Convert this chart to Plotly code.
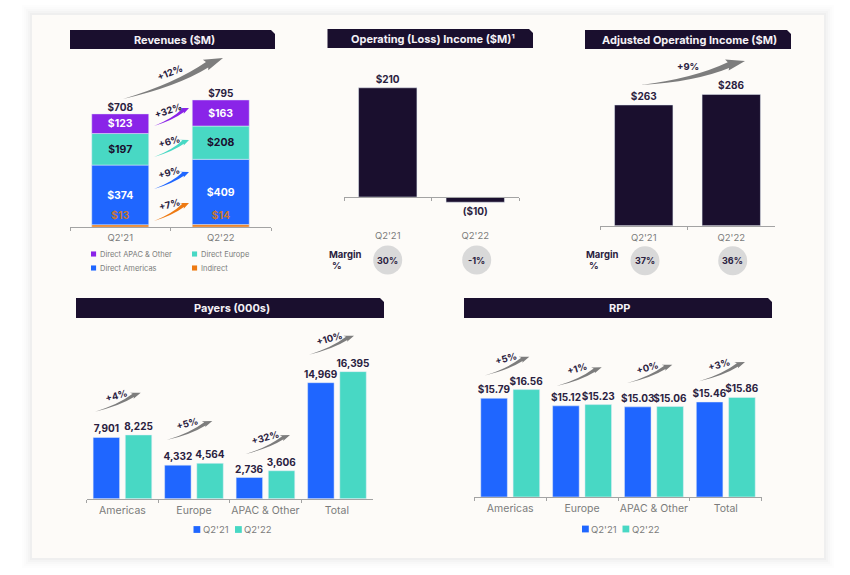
import plotly.graph_objects as go

W, H = 850, 575
FONT = "Inter"
DARK = "#1a0f2e"
INK = "#2a2140"
GREY = "#7b7b7b"
BLUE = "#1f66ff"
TEAL = "#48d8c4"
PURPLE = "#8a24e8"
ORANGE = "#ee7a12"
ARROW = "#7d7d7d"

# ---------- data ----------
quarters = ["Q2'21", "Q2'22"]
rev_indirect = [13, 14]
rev_americas = [374, 409]
rev_europe = [197, 208]
rev_apac = [123, 163]
rev_totals = [708, 795]

op_income = [210, -10]
op_margin = ["30%", "-1%"]
adj_income = [263, 286]
adj_margin = ["37%", "36%"]

regions = ["Americas", "Europe", "APAC & Other", "Total"]
payers_q221 = [7901, 4332, 2736, 14969]
payers_q222 = [8225, 4564, 3606, 16395]
rpp_q221 = [15.79, 15.12, 15.03, 15.46]
rpp_q222 = [16.56, 15.23, 15.06, 15.86]


def fx(px):
    return px / W


def fy(py):
    return 1 - py / H


fig = go.Figure()
shapes = []
annots = []


def text(px, py, s, size=10, color=INK, bold=True, angle=0, xanchor="center"):
    annots.append(dict(
        x=fx(px), y=fy(py), xref="paper", yref="paper", text=s, showarrow=False,
        xanchor=xanchor, yanchor="middle", textangle=angle, borderpad=0,
        font=dict(family=FONT, size=size, color=color, weight=700 if bold else 400),
    ))


def title_bar(x0, y0, x1, y1, s, cx):
    shapes.append(dict(
        type="path", xref="paper", yref="paper", fillcolor=DARK, line_width=0,
        path=f"M{fx(x0)},{fy(y0)} L{fx(x1-4)},{fy(y0)} L{fx(x1)},{fy(y0+4)} "
             f"L{fx(x1)},{fy(y1)} L{fx(x0)},{fy(y1)} Z"))
    text(cx, (y0 + y1) / 2, s, size=11, color="#f4f1f6")


def swoosh(x0, y0, x1, y1, color, label, lx, ly, angle, size=9.5):
    dx, dy = x1 - x0, y1 - y0
    L = (dx * dx + dy * dy) ** 0.5
    ux, uy = dx / L, dy / L
    nx, ny = uy, -ux  # points to the upper side

    def p(a, b):
        return f"{fx(x0 + ux * a + nx * b)},{fy(y0 + uy * a + ny * b)}"

    t = max(3.2, L * 0.05)
    neck = L * 0.84
    low = -.03 * L
    path = (f"M{p(0, 0)} Q{p(L * .5, -L * .085)} {p(neck, low)} "
            f"L{p(neck - 1, low - t * .45)} L{p(L, 0)} L{p(neck - 2, low + t * 1.7)} "
            f"L{p(neck, low + t * 1.1)} Q{p(L * .5, -L * .05)} {p(0, 0)} Z")
    shapes.append(dict(type="path", xref="paper", yref="paper", path=path,
                       fillcolor=color, line_width=0))
    text(lx, ly, label, size=size, angle=angle)


def circle(cx, cy, s):
    shapes.append(dict(type="circle", xref="paper", yref="paper", fillcolor="#d9d9d9", line_width=0,
                       x0=fx(cx - 14.5), x1=fx(cx + 14.5), y0=fy(cy + 14.5), y1=fy(cy - 14.5)))
    text(cx, cy, s, size=9)


def swatch(px, py, color, s, size, gap, box=None):
    half = (box or size) * 0.34
    shapes.append(dict(type="rect", xref="paper", yref="paper", fillcolor=color, line_width=0,
                       x0=fx(px), x1=fx(px + 2 * half), y0=fy(py + half), y1=fy(py - half)))
    text(px + 2 * half + gap, py, s, size=size, color=GREY, bold=False, xanchor="left")


# ---------- card ----------
for grow, op in [(10, .006), (8, .008), (6, .01), (4, .014), (2, .018)]:
    shapes.append(dict(type="rect", xref="paper", yref="paper", layer="below", line_width=0,
                       fillcolor=f"rgba(0,0,0,{op})", x0=fx(32 - grow), x1=fx(824 + grow),
                       y0=fy(558 + grow), y1=fy(15 - grow)))
shapes.append(dict(type="rect", xref="paper", yref="paper", layer="below", line_width=0,
                   fillcolor="#fdfbf8", x0=fx(32), x1=fx(824), y0=fy(558), y1=fy(15)))


# ---------- axes ----------
def axes(n, x0, x1, ytop, ybase, ymin, ymax, cats, tick_size=10.5, **xkw):
    sfx = "" if n == 1 else str(n)
    xa = dict(domain=[fx(x0), fx(x1)], type="category", categoryorder="array", categoryarray=cats,
              range=[-.5, len(cats) - .5], showgrid=False, zeroline=False, showline=True,
              linecolor="#a3a3a3", linewidth=1, ticks="outside", tickson="boundaries",
              ticklen=3, tickcolor="#a3a3a3", tickwidth=1, anchor=f"y{sfx}", fixedrange=True,
              tickangle=0, tickfont=dict(family=FONT, size=tick_size, color=GREY))
    xa.update(xkw)
    ya = dict(domain=[fy(ybase), fy(ytop)], range=[ymin, ymax], visible=False, showgrid=False,
              zeroline=False, anchor=f"x{sfx}", fixedrange=True)
    fig.update_layout({f"xaxis{sfx}": xa, f"yaxis{sfx}": ya})
    return f"x{sfx}", f"y{sfx}"


LABEL = dict(family=FONT, size=10, color=INK, weight=700)


def seg(values, base, color, labels, xa, ya, name, tcolor, pos="inside"):
    fig.add_trace(go.Bar(
        x=quarters, y=values, base=base, width=.567, offset=-.2835, marker_color=color, name=name,
        text=labels, textposition=pos, insidetextanchor="middle", constraintext="none",
        textangle=0, cliponaxis=False, xaxis=xa, yaxis=ya, showlegend=False,
        textfont=dict(family=FONT, size=10.5, color=tcolor, weight=700),
    ))


def money(vals):
    return [f"${v}" for v in vals]


# Revenues: 0.16 px per $M, baseline at y=227
xa, ya = axes(1, 70, 271, 55, 227, 0, 172 / .16, quarters, tick_size=9.5, ticklabelstandoff=2)
base_am = rev_indirect
base_eu = [a + b for a, b in zip(base_am, rev_americas)]
base_ap = [a + b for a, b in zip(base_eu, rev_europe)]
seg(rev_americas, base_am, BLUE, money(rev_americas), xa, ya, "Direct Americas", "#ffffff")
seg(rev_europe, base_eu, TEAL, money(rev_europe), xa, ya, "Direct Europe", DARK)
seg(rev_apac, base_ap, PURPLE, money(rev_apac), xa, ya, "Direct APAC & Other", "#ffffff")
seg(rev_indirect, [0, 0], ORANGE, money(rev_indirect), xa, ya, "Indirect", "#c9762f", pos="outside")
fig.add_trace(go.Scatter(x=quarters, y=rev_totals, mode="text", text=money(rev_totals),
                         textposition="top center", cliponaxis=False, xaxis=xa, yaxis=ya,
                         showlegend=False, textfont=LABEL))

# Operating income
xa, ya = axes(2, 344, 519, 60, 225, -28 / .52, 137 / .52, quarters, tick_size=9.5, anchor="free",
              position=fy(197), ticklabelstandoff=30)
fig.add_trace(go.Bar(x=quarters, y=op_income, width=.667, offset=-.3335, marker_color=DARK,
                     text=[f"${v}" if v >= 0 else f"(${-v})" for v in op_income],
                     textposition="outside", constraintext="none", cliponaxis=False,
                     xaxis=xa, yaxis=ya, showlegend=False, textfont=LABEL))

# Adjusted operating income
xa, ya = axes(3, 600, 775, 55, 225.7, 0, 170.7 / .459, quarters, tick_size=9.5, ticklabelstandoff=3)
fig.add_trace(go.Bar(x=quarters, y=adj_income, width=.667, offset=-.3335, marker_color=DARK,
                     text=money(adj_income), textposition="outside", constraintext="none",
                     cliponaxis=False, xaxis=xa, yaxis=ya, showlegend=False, textfont=LABEL))


def grouped(a, b, labels_a, labels_b, xa, ya):
    for vals, labs, col, off, nm in [(a, labels_a, BLUE, -.41, quarters[0]), (b, labels_b, TEAL, .04, quarters[1])]:
        fig.add_trace(go.Bar(x=regions, y=vals, width=.37, offset=off, marker_color=col, name=nm,
                             text=labs, textposition="outside", constraintext="none",
                             cliponaxis=False, xaxis=xa, yaxis=ya, showlegend=False, textfont=LABEL))


# Payers
xa, ya = axes(4, 86.7, 372.7, 330, 498.7, 0, 168.7 / .00775, regions, ticklabelstandoff=2)
grouped(payers_q221, payers_q222, [f"{v:,}" for v in payers_q221], [f"{v:,}" for v in payers_q222], xa, ya)

# RPP: axis is truncated in the source
xa, ya = axes(5, 474.3, 761.7, 330, 496.7, 7.08, 7.08 + 166.7 / 11.3, regions, ticklabelstandoff=2)
grouped(rpp_q221, rpp_q222, [f"${v:.2f}" for v in rpp_q221], [f"${v:.2f}" for v in rpp_q222], xa, ya)

# ---------- titles ----------
title_bar(70, 30, 275, 49, "Revenues ($M)", 174)
title_bar(327.5, 29, 533, 48, "Operating (Loss) Income ($M)¹", 433)
title_bar(585, 30, 791, 49, "Adjusted Operating Income ($M)", 689)
title_bar(76, 298, 384, 318, "Payers (000s)", 231.7)
title_bar(464, 298, 772, 318, "RPP", 619)

# ---------- growth arrows ----------
swoosh(123, 99, 223, 58, ARROW, "+12%", 170, 73, -22)
swoosh(154, 126, 189, 108, PURPLE, "+32%", 168, 110, -18)
swoosh(154, 157, 189, 140, TEAL, "+6%", 169, 141, -15)
swoosh(154, 189, 189, 172, BLUE, "+9%", 169, 173, -15)
swoosh(154, 221, 189, 203, ORANGE, "+7%", 169, 205, -15)
swoosh(641, 85, 745, 61, ARROW, "+9%", 688, 67, 0)
swoosh(95, 411.7, 140.7, 392.7, ARROW, "+4%", 116.7, 395, -15)
swoosh(166.7, 440, 212.3, 421, ARROW, "+5%", 187.3, 423, -15)
swoosh(245.7, 454, 290, 435, ARROW, "+32%", 265.3, 437, -15)
swoosh(309, 354.7, 354, 335.7, ARROW, "+10%", 329.3, 338, -15)
swoosh(484, 375.7, 529.3, 356.7, ARROW, "+5%", 505.7, 358.5, -15)
swoosh(556.7, 386, 601.7, 367.3, ARROW, "+1%", 577.3, 368.5, -15)
swoosh(626.7, 383.3, 672.3, 364.7, ARROW, "+0%", 647.7, 367, -15)
swoosh(699, 381.3, 745, 362, ARROW, "+3%", 719.3, 364.5, -15)

# ---------- margins ----------
for cx, s in zip([387.7, 476.7], op_margin):
    circle(cx, 260, s)
for cx, s in zip([645, 732.7], adj_margin):
    circle(cx, 260.7, s)
for lx in (328, 585):
    text(lx, 255, "Margin", size=9.5, xanchor="left")
    text(lx + 3, 265.5, "%", size=9.5, xanchor="left")

# ---------- legends ----------
swatch(91, 254, PURPLE, "Direct APAC & Other", 7.5, 3)
swatch(192, 254, TEAL, "Direct Europe", 7.5, 3)
swatch(91, 268, BLUE, "Direct Americas", 7.5, 3)
swatch(192, 268, ORANGE, "Indirect", 7.5, 3)
swatch(193.5, 529.5, BLUE, quarters[0], 9.5, 1.5, box=10)
swatch(235, 529.5, TEAL, quarters[1], 9.5, 1.5, box=10)
swatch(582, 529, BLUE, quarters[0], 9.5, 1.5, box=10)
swatch(622.5, 529, TEAL, quarters[1], 9.5, 1.5, box=10)

fig.update_layout(
    width=W, height=H, margin=dict(l=0, r=0, t=0, b=0), autosize=False,
    paper_bgcolor="#ffffff", plot_bgcolor="rgba(0,0,0,0)", barmode="overlay",
    shapes=shapes, annotations=annots, showlegend=False,
    font=dict(family=FONT),
)
fig.write_html("out.html", post_script="document.body.style.margin='0';",
               config={"displayModeBar": False})
